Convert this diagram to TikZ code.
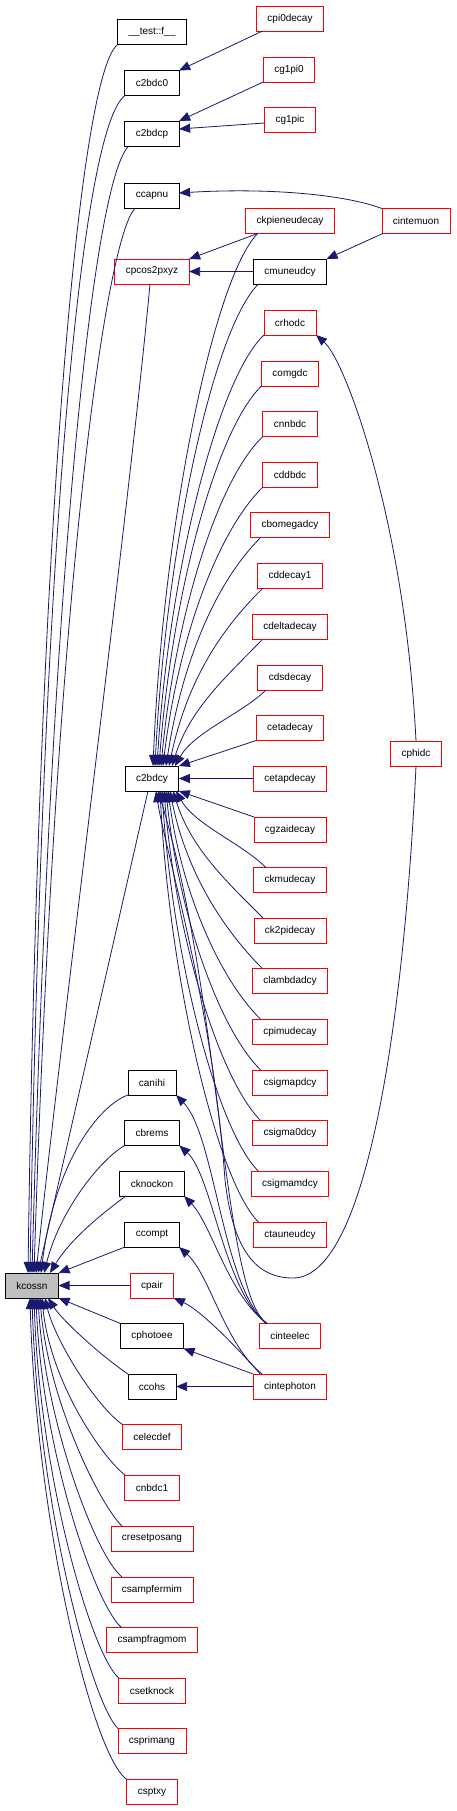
\documentclass[tikz,border=0pt]{standalone}
\usepackage{fontspec}
\setmainfont{Liberation Sans}
\usetikzlibrary{arrows.meta,calc}
\definecolor{edgeblue}{HTML}{191970}
\definecolor{nodegray}{HTML}{BFBFBF}
\definecolor{nodered}{HTML}{FF0000}
\tikzset{
  fn/.style={rectangle, draw=black, line width=0.8pt, minimum height=25pt,
    inner xsep=11pt, inner ysep=0pt, outer sep=0pt, text=black,
    font=\fontsize{10}{12}\selectfont},
  fnred/.style={fn, draw=nodered},
  fnmain/.style={fn, fill=nodegray},
  call/.style={draw=edgeblue, line width=0.8pt, {Triangle[length=11pt,width=9pt]}-},
}
\begin{document}
\begin{tikzpicture}[x=1pt,y=-1pt]
\useasboundingbox (0,0) rectangle (456,1811);
% nodes
\node[fn]    (test)        at (152,32)    {\_\_test::f\_\_};
\node[fnred] (cpi0decay)   at (290,18.5)  {cpi0decay};
\node[fn]    (c2bdc0)      at (152,83)    {c2bdc0};
\node[fnred] (cg1pi0)      at (289,69.5)  {cg1pi0};
\node[fn]    (c2bdcp)      at (152,133.5) {c2bdcp};
\node[fnred] (cg1pic)      at (290,120)   {cg1pic};
\node[fn]    (ccapnu)      at (152,196)   {ccapnu};
\node[fnred] (ckpieneudecay) at (290,221) {ckpieneudecay};
\node[fnred] (cintemuon)   at (416,221)   {cintemuon};
\node[fnred] (cpcos2pxyz)  at (152,271.5) {cpcos2pxyz};
\node[fn]    (cmuneudcy)   at (290,271.5) {cmuneudcy};
\node[fnred] (crhodc)      at (290,322.5) {crhodc};
\node[fnred] (comgdc)      at (290,373.5) {comgdc};
\node[fnred] (cnnbdc)      at (290,424)   {cnnbdc};
\node[fnred] (cddbdc)      at (290,474.5) {cddbdc};
\node[fnred] (cbomegadcy)  at (290,525)   {cbomegadcy};
\node[fnred] (cddecay1)    at (290,576)   {cddecay1};
\node[fnred] (cdeltadecay) at (290,627)   {cdeltadecay};
\node[fnred] (cdsdecay)    at (290,677.5) {cdsdecay};
\node[fnred] (cetadecay)   at (290,728)   {cetadecay};
\node[fnred] (cphidc)      at (416,753.5) {cphidc};
\node[fn]    (c2bdcy)      at (152,778.5) {c2bdcy};
\node[fnred] (cetapdecay)  at (290,778.5) {cetapdecay};
\node[fnred] (cgzaidecay)  at (290,829.5) {cgzaidecay};
\node[fnred] (ckmudecay)   at (290,880)   {ckmudecay};
\node[fnred] (ck2pidecay)  at (290,930.5) {ck2pidecay};
\node[fnred] (clambdadcy)  at (290,981)   {clambdadcy};
\node[fnred] (cpimudecay)  at (290,1031.5) {cpimudecay};
\node[fn]    (canihi)      at (152,1082.5) {canihi};
\node[fnred] (csigmapdcy)  at (290,1082.5) {csigmapdcy};
\node[fn]    (cbrems)      at (152,1133)  {cbrems};
\node[fnred] (csigma0dcy)  at (290,1133)  {csigma0dcy};
\node[fn]    (cknockon)    at (152,1183.5) {cknockon};
\node[fnred] (csigmamdcy)  at (290,1183.5) {csigmamdcy};
\node[fn]    (ccompt)      at (152,1234.5) {ccompt};
\node[fnred] (ctauneudcy)  at (290,1234.5) {ctauneudcy};
\node[fnmain] (kcossn)     at (32,1285.5) {kcossn};
\node[fnred] (cpair)       at (152,1285.5) {cpair};
\node[fn]    (cphotoee)    at (152,1336)  {cphotoee};
\node[fnred] (cinteelec)   at (290,1336)  {cinteelec};
\node[fn]    (ccohs)       at (152,1386.5) {ccohs};
\node[fnred] (cintephoton) at (290,1386.5) {cintephoton};
\node[fnred] (celecdef)    at (152,1437)  {celecdef};
\node[fnred] (cnbdc1)      at (152,1487.5) {cnbdc1};
\node[fnred] (cresetposang) at (152,1538.5) {cresetposang};
\node[fnred] (csampfermim) at (152,1589.5) {csampfermim};
\node[fnred] (csampfragmom) at (152,1640) {csampfragmom};
\node[fnred] (csetknock)   at (152,1690.5) {csetknock};
\node[fnred] (csprimang)   at (152,1741)  {csprimang};
\node[fnred] (csptxy)      at (152,1792)  {csptxy};
% top group
\draw[call] (c2bdc0.north east) -- ($(cpi0decay.south west)+(6,0)$);
\draw[call] (c2bdcp.north east) -- (cg1pi0.south west);
\draw[call] ($(c2bdcp.east)+(0,-4.5)$) -- ($(cg1pic.west)+(0,3)$);
\draw[call] ($(ccapnu.east)+(0,-3)$) .. controls (260,188) and (340,193) .. (cintemuon.north west);
\draw[call] (cmuneudcy.north east) -- ($(cintemuon.south west)+(1,0)$);
\draw[call] (cpcos2pxyz.north east) -- ($(ckpieneudecay.south west)+(12,0)$);
\draw[call] (cpcos2pxyz.east) -- (cmuneudcy.west);
\draw[call] (crhodc.south east) .. controls (345,360) and (405,520) .. (cphidc.north);
% into c2bdcy from above
\draw[call] ($(c2bdcy.north)+(1,0)$) .. controls (163,527) and (213,279) .. ($(ckpieneudecay.south west)+(12,0)$);
\draw[call] ($(c2bdcy.north)+(3,0)$) .. controls (166,549) and (213,329) .. ($(cmuneudcy.south west)+(5,0)$);
\draw[call] ($(c2bdcy.north)+(5,0)$) .. controls (169,572) and (218,378) .. (crhodc.south west);
\draw[call] ($(c2bdcy.north)+(7,0)$) .. controls (172,595) and (216,430) .. (comgdc.south west);
\draw[call] ($(c2bdcy.north)+(9,0)$) .. controls (175,618) and (217,480) .. (cnnbdc.south west);
\draw[call] ($(c2bdcy.north)+(11,0)$) .. controls (178,640) and (217,532) .. (cddbdc.south west);
\draw[call] ($(c2bdcy.north)+(14,0)$) .. controls (182,663) and (215,583) .. ($(cbomegadcy.south west)+(10,0)$);
\draw[call] ($(c2bdcy.north)+(17,0)$) .. controls (186,686) and (217,633) .. ($(cddecay1.south west)+(5,0)$);
\draw[call] ($(c2bdcy.north)+(20,0)$) .. controls (190,709) and (225,678) .. ($(cdeltadecay.south west)+(10,0)$);
\draw[call] ($(c2bdcy.north)+(23,0)$) .. controls (194,732) and (243,713) .. ($(cdsdecay.south west)+(8,0)$);
\draw[call] (c2bdcy.north east) -- (cetadecay.south west);
\draw[call] (c2bdcy.east) -- (cetapdecay.west);
\draw[call] (c2bdcy.south east) -- (cgzaidecay.north west);
% into c2bdcy from below
\draw[call] ($(c2bdcy.south)+(24,0)$) .. controls (195,825) and (243,844) .. ($(ckmudecay.north west)+(12,0)$);
\draw[call] ($(c2bdcy.south)+(21,0)$) .. controls (191,848) and (225,880) .. ($(ck2pidecay.north west)+(9,0)$);
\draw[call] ($(c2bdcy.south)+(18,0)$) .. controls (186,871) and (222,928) .. ($(clambdadcy.north west)+(10,0)$);
\draw[call] ($(c2bdcy.south)+(16,0)$) .. controls (182,894) and (220,979) .. ($(cpimudecay.north west)+(8,0)$);
\draw[call] ($(c2bdcy.south)+(14,0)$) .. controls (179,917) and (220,1030) .. ($(csigmapdcy.north west)+(8,0)$);
\draw[call] ($(c2bdcy.south)+(12,0)$) .. controls (176,939) and (220,1080) .. ($(csigma0dcy.north west)+(8,0)$);
\draw[call] ($(c2bdcy.south)+(10,0)$) .. controls (173,962) and (218,1131) .. ($(csigmamdcy.north west)+(7,0)$);
\draw[call] ($(c2bdcy.south)+(8,0)$) .. controls (170,985) and (218,1182) .. ($(ctauneudcy.north west)+(5,0)$);
\draw[call] ($(c2bdcy.south)+(6,0)$) .. controls (222,1000) and (222,1295) .. ($(cinteelec.north west)+(8,0)$);
\draw[call] ($(c2bdcy.south)+(4,0)$) .. controls (165,850) and (212,1000) .. (225,1180)
  .. controls (232,1240) and (250,1278) .. (293,1278)
  .. controls (370,1278) and (405,1000) .. (cphidc.south);
% into kcossn from above
\draw[call] ($(kcossn.north)+(-4,0)$) .. controls (38,550) and (78,75) .. (test.south west);
\draw[call] ($(kcossn.north)+(-2,0)$) .. controls (42,560) and (80,130) .. (c2bdc0.south west);
\draw[call] (kcossn.north) .. controls (50,600) and (92,180) .. ($(c2bdcp.south west)+(4,0)$);
\draw[call] ($(kcossn.north)+(2,0)$) .. controls (55,600) and (105,240) .. ($(ccapnu.south west)+(10,0)$);
\draw[call] ($(kcossn.north)+(4,0)$) .. controls (65,1000) and (130,500) .. ($(cpcos2pxyz.south)+(-2,0)$);
\draw[call] ($(kcossn.north)+(6,0)$) -- ($(c2bdcy.south)+(-4,0)$);
\draw[call] ($(kcossn.north)+(9,0)$) .. controls (55,1160) and (100,1105) .. (canihi.south west);
\draw[call] ($(kcossn.north)+(12,0)$) .. controls (60,1210) and (100,1160) .. (cbrems.south west);
\draw[call] ($(kcossn.north)+(18,0)$) .. controls (70,1240) and (100,1215) .. ($(cknockon.south west)+(6,0)$);
\draw[call] (kcossn.north east) -- (ccompt.south west);
\draw[call] (kcossn.east) -- (cpair.west);
\draw[call] (kcossn.south east) -- (cphotoee.north west);
% into kcossn from below
\draw[call] ($(kcossn.south)+(16,0)$) .. controls (62,1320) and (100,1355) .. (ccohs.north west);
\draw[call] ($(kcossn.south)+(13,0)$) .. controls (55,1340) and (95,1405) .. (celecdef.north west);
\draw[call] ($(kcossn.south)+(10,0)$) .. controls (50,1380) and (100,1455) .. (cnbdc1.north west);
\draw[call] ($(kcossn.south)+(8,0)$) .. controls (48,1400) and (100,1505) .. ($(cresetposang.north west)+(11,0)$);
\draw[call] ($(kcossn.south)+(6,0)$) .. controls (45,1420) and (95,1555) .. ($(csampfermim.north west)+(11,0)$);
\draw[call] ($(kcossn.south)+(4,0)$) .. controls (42,1450) and (95,1605) .. ($(csampfragmom.north west)+(15,0)$);
\draw[call] ($(kcossn.south)+(2,0)$) .. controls (40,1480) and (92,1655) .. (csetknock.north west);
\draw[call] (kcossn.south) .. controls (38,1500) and (90,1700) .. (csprimang.north west);
\draw[call] ($(kcossn.south)+(-2,0)$) .. controls (36,1520) and (92,1755) .. (csptxy.north west);
% cinteelec / cintephoton
\draw[call] (canihi.south east) .. controls (215,1135) and (222,1285) .. ($(cinteelec.north west)+(7,0)$);
\draw[call] (cbrems.south east) .. controls (212,1175) and (224,1290) .. ($(cinteelec.north west)+(7,0)$);
\draw[call] (cknockon.south east) .. controls (212,1225) and (228,1295) .. ($(cinteelec.north west)+(8,0)$);
\draw[call] (ccompt.south east) .. controls (210,1275) and (225,1345) .. ($(cintephoton.north west)+(9,0)$);
\draw[call] (cpair.south east) .. controls (200,1310) and (235,1345) .. ($(cintephoton.north west)+(7,0)$);
\draw[call] (cphotoee.south east) -- (cintephoton.north west);
\draw[call] (ccohs.east) -- (cintephoton.west);
\end{tikzpicture}
\end{document}
